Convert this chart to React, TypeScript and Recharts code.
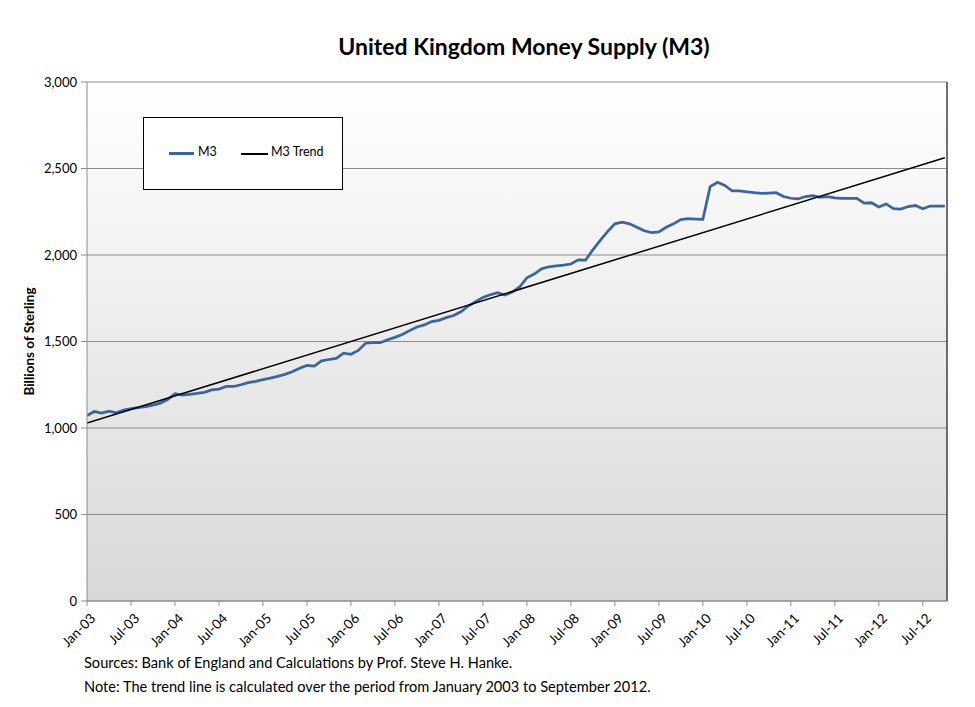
import React from "react";
import { LineChart, Line, XAxis, YAxis, CartesianGrid, ReferenceLine } from "recharts";

// Monthly M3 (billions of sterling), Jan-03 onward
const m3Values: number[] = [
  1072, 1095, 1086, 1097, 1088, 1103, 1112, 1118, 1124, 1132, 1144, 1165,
  1198, 1190, 1195, 1200, 1206, 1220, 1225, 1240, 1240, 1250, 1262, 1270,
  1280, 1288, 1298, 1310, 1325, 1345, 1362, 1358, 1388, 1396, 1402, 1433,
  1426, 1448, 1490, 1494, 1493, 1510, 1524, 1540, 1563, 1584, 1596, 1615,
  1622, 1638, 1650, 1672, 1705, 1730, 1755, 1770, 1782, 1768, 1786, 1815,
  1868, 1890, 1920, 1932, 1937, 1942, 1948, 1972, 1970, 2030, 2085, 2135,
  2180, 2190, 2180, 2160, 2140, 2130, 2134, 2160, 2180, 2205, 2210, 2208,
  2206, 2395, 2420, 2402, 2370, 2370, 2365, 2360, 2356, 2358, 2360, 2338,
  2328, 2324, 2338, 2343, 2333, 2337, 2330, 2327, 2328, 2327, 2300, 2302,
  2278, 2295, 2268, 2265, 2280, 2286, 2267, 2283, 2283, 2283,
];

// Trend line end points (month index, value)
const trendIdx: number[] = [0, 117];
const trendValues: number[] = [1028, 2562];

const xTickIdx: number[] = [0, 6, 12, 18, 24, 30, 36, 42, 48, 54, 60, 66, 72, 78, 84, 90, 96, 102, 108, 114];
const xTickLabels: string[] = [
  "Jan-03", "Jul-03", "Jan-04", "Jul-04", "Jan-05", "Jul-05", "Jan-06", "Jul-06", "Jan-07", "Jul-07",
  "Jan-08", "Jul-08", "Jan-09", "Jul-09", "Jan-10", "Jul-10", "Jan-11", "Jul-11", "Jan-12", "Jul-12",
];
const yTicks: number[] = [0, 500, 1000, 1500, 2000, 2500, 3000];

const m3Data = m3Values.map((v, i) => ({ m: i, m3: v }));
const trendData = trendIdx.map((m, i) => ({ m, trend: trendValues[i] }));

const FONT = "Lato, 'Liberation Sans', sans-serif";
const BLUE = "#3a669d";

const XTick = (props: any) => {
  const { x, y, payload } = props;
  const idx = xTickIdx.indexOf(payload.value);
  const label = idx >= 0 ? xTickLabels[idx] : "";
  return (
    <g transform={`translate(${x + 5},${y + 7})`}>
      <text x={0} y={0} dy={6} textAnchor="end" transform="rotate(-45)" fontSize={13.5} fill="#000" fontFamily={FONT}>
        {label}
      </text>
    </g>
  );
};

export default function App() {
  return (
    <div style={{ position: "absolute", left: 0, top: 0, width: 975, height: 707, background: "#fff", fontFamily: FONT }}>
      <div style={{ position: "absolute", left: 0, width: 1048, top: 32, textAlign: "center", fontSize: 23, fontWeight: 700, color: "#000" }}>
        United Kingdom Money Supply (M3)
      </div>
      <LineChart width={975} height={707} margin={{ top: 82, right: 28, bottom: 46, left: 27 }}>
        <defs>
          <linearGradient id="bgGrad" x1="0" y1="0" x2="0" y2="1">
            <stop offset="0%" stopColor="#ffffff" />
            <stop offset="100%" stopColor="#d8d8d8" />
          </linearGradient>
        </defs>
        <CartesianGrid vertical={false} stroke="#8c8c8c" fill="url(#bgGrad)" fillOpacity={1} />
        <XAxis
          dataKey="m"
          type="number"
          domain={[0, 117.3]}
          ticks={xTickIdx}
          allowDataOverflow
          height={60}
          tick={<XTick />}
          tickLine={{ stroke: "#8c8c8c" }}
          axisLine={{ stroke: "#8c8c8c" }}
          tickSize={5}
          interval={0}
        />
        <YAxis
          type="number"
          domain={[0, 3000]}
          ticks={yTicks}
          width={60}
          tickSize={6}
          tickMargin={4}
          tickLine={{ stroke: "#8c8c8c" }}
          axisLine={{ stroke: "#8c8c8c" }}
          tick={{ fontSize: 13, fill: "#000", fontFamily: FONT }}
          tickFormatter={(v: number) => v.toLocaleString("en-US")}
          label={{
            value: "Billions of Sterling",
            angle: -90,
            position: "insideLeft",
            offset: 2,
            style: { fontSize: 13.5, fontWeight: 700, fill: "#000", fontFamily: FONT, textAnchor: "middle" },
          }}
        />
        <ReferenceLine x={117.3} stroke="#404040" strokeWidth={1.5} ifOverflow="extendDomain" />
        <Line
          data={m3Data}
          dataKey="m3"
          type="linear"
          stroke={BLUE}
          strokeWidth={2.75}
          dot={false}
          isAnimationActive={false}
        />
        <Line
          data={trendData}
          dataKey="trend"
          type="linear"
          stroke="#000"
          strokeWidth={1.5}
          dot={false}
          isAnimationActive={false}
        />
      </LineChart>
      <div style={{ position: "absolute", left: 143, top: 117, width: 198, height: 71, background: "#fff", border: "1px solid #000", fontSize: 12.5 }}>
        <div style={{ position: "absolute", left: 25, top: 34, width: 25, height: 3, background: BLUE }} />
        <div style={{ position: "absolute", left: 54, top: 26 }}>M3</div>
        <div style={{ position: "absolute", left: 97, top: 34.5, width: 27, height: 2, background: "#000" }} />
        <div style={{ position: "absolute", left: 127, top: 26 }}>M3 Trend</div>
      </div>
      <div style={{ position: "absolute", left: 84, top: 651, fontSize: 14.6, lineHeight: "24px", color: "#000" }}>
        <div>Sources: Bank of England and Calculations by Prof. Steve H. Hanke.</div>
        <div>Note: The trend line is calculated over the period from January 2003 to September 2012.</div>
      </div>
    </div>
  );
}
